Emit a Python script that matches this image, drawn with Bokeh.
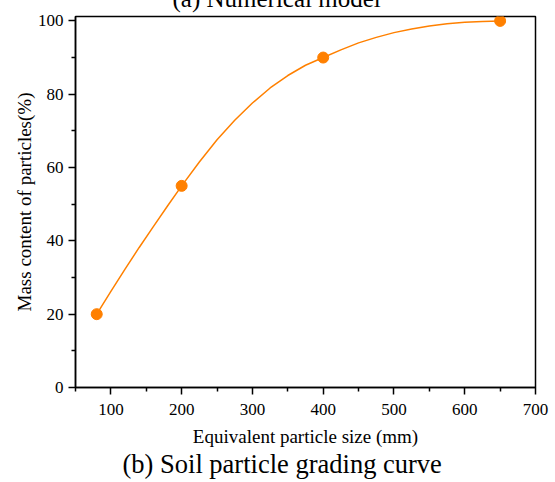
from bokeh.plotting import figure
from bokeh.models import Range1d, FixedTicker, Title
from bokeh.embed import file_html
from bokeh.resources import INLINE

# measured grading points
size_mm = [80, 200, 400, 650]
mass_pct = [20, 55, 90, 100]

# smooth grading curve
curve_x = [80, 100, 120, 140, 160, 180, 200, 225, 250, 275, 300, 325, 350, 375,
           400, 425, 450, 475, 500, 525, 550, 575, 600, 625, 650]
curve_y = [20, 26.2, 32.3, 38.2, 43.9, 49.5, 55, 61.5, 67.6, 72.9, 77.6, 81.7, 85.1, 87.9,
           90, 92.1, 94.0, 95.5, 96.8, 97.8, 98.6, 99.2, 99.6, 99.85, 100]

x_ticks = [100, 200, 300, 400, 500, 600, 700]
x_minor = [50, 150, 250, 350, 450, 550, 650]
y_ticks = [0, 20, 40, 60, 80, 100]
y_minor = [10, 30, 50, 70, 90]

FONT = "'Liberation Serif', 'Times New Roman', serif"
ORANGE = "#FF8000"

p = figure(width=555, height=506,
           x_range=Range1d(50, 700), y_range=Range1d(0, 101.2),
           output_backend="svg", toolbar_location=None,
           min_border_left=75, min_border_right=20,
           min_border_top=40, min_border_bottom=95,
           styles={"margin-top": "-24px"})

p.title = Title(text="(a) Numerical model", align="left", offset=97,
                text_font=FONT, text_font_size="25px", text_font_style="normal",
                text_color="black", standoff=10)
p.add_layout(Title(text="(b) Soil particle grading curve", align="left", offset=47,
                   text_font=FONT, text_font_size="26.5px", text_font_style="normal",
                   text_color="black", standoff=-6), "below")

p.line(curve_x, curve_y, line_color=ORANGE, line_width=1.5)
p.scatter(size_mm, mass_pct, size=11, fill_color=ORANGE, line_color=ORANGE)

p.xgrid.visible = False
p.ygrid.visible = False
p.outline_line_color = "black"
p.outline_line_width = 1.5
p.background_fill_color = "white"
p.border_fill_color = "white"

p.xaxis.ticker = FixedTicker(ticks=x_ticks, minor_ticks=x_minor)
p.yaxis.ticker = FixedTicker(ticks=y_ticks, minor_ticks=y_minor)
p.xaxis.axis_label = "Equivalent particle size (mm)"
p.yaxis.axis_label = "Mass content of particles(%)"

for ax in (p.xaxis, p.yaxis):
    ax.axis_line_color = "black"
    ax.axis_line_width = 1.5
    ax.major_tick_line_color = "black"
    ax.major_tick_line_width = 1.5
    ax.minor_tick_line_color = "black"
    ax.minor_tick_line_width = 1.5
    ax.major_tick_in = 0
    ax.major_tick_out = 7
    ax.minor_tick_in = 0
    ax.minor_tick_out = 4
    ax.major_label_text_font = FONT
    ax.major_label_text_font_size = "17px"
    ax.major_label_text_color = "black"
    ax.axis_label_text_font = FONT
    ax.axis_label_text_font_size = "19px"
    ax.axis_label_text_font_style = "normal"
    ax.axis_label_text_color = "black"

p.xaxis.major_label_standoff = 9
p.yaxis.major_label_standoff = 5
p.xaxis.axis_label_standoff = 8
p.yaxis.axis_label_standoff = 0

open("out.html", "w").write(file_html(p, INLINE))
